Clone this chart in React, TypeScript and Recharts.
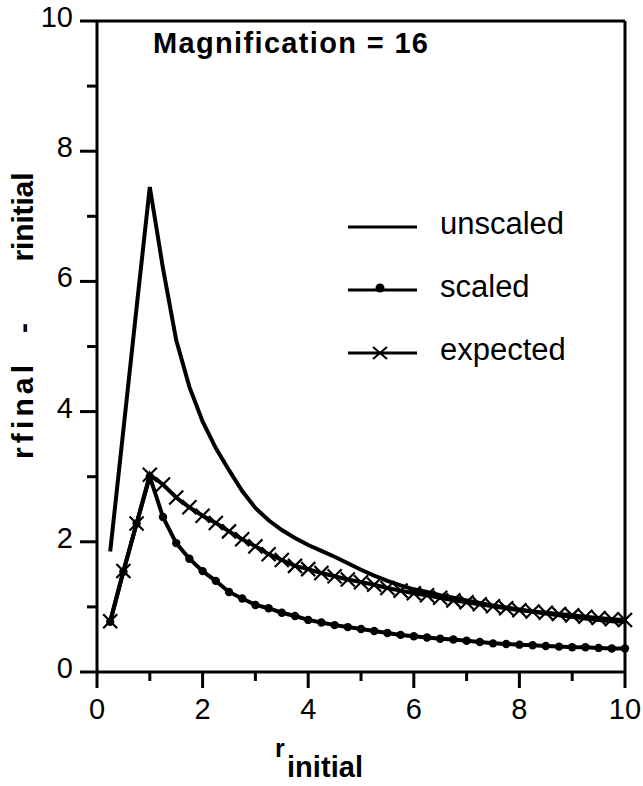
import React from 'react';
import { LineChart, Line, XAxis, YAxis, ReferenceLine, Legend, Customized } from 'recharts';

const rInitial = [0.25, 0.5, 0.75, 1.0, 1.25, 1.5, 1.75, 2.0, 2.25, 2.5, 2.75, 3.0, 3.25, 3.5, 3.75, 4.0, 4.25, 4.5, 4.75, 5.0, 5.25, 5.5, 5.75, 6.0, 6.25, 6.5, 6.75, 7.0, 7.25, 7.5, 7.75, 8.0, 8.25, 8.5, 8.75, 9.0, 9.25, 9.5, 9.75, 10.0];
const unscaled = [1.85, 3.72, 5.6, 7.45, 6.2, 5.1, 4.38, 3.85, 3.44, 3.1, 2.78, 2.52, 2.33, 2.18, 2.06, 1.95, 1.86, 1.77, 1.67, 1.57, 1.48, 1.4, 1.33, 1.27, 1.23, 1.18, 1.14, 1.1, 1.06, 1.02, 0.99, 0.96, 0.93, 0.9, 0.87, 0.85, 0.82, 0.8, 0.78, 0.77];
const scaled = [0.77, 1.54, 2.28, 3.0, 2.38, 1.98, 1.74, 1.55, 1.4, 1.23, 1.13, 1.03, 0.98, 0.91, 0.86, 0.8, 0.76, 0.72, 0.69, 0.66, 0.63, 0.6, 0.57, 0.55, 0.53, 0.51, 0.5, 0.48, 0.46, 0.44, 0.43, 0.42, 0.41, 0.4, 0.39, 0.38, 0.38, 0.37, 0.36, 0.36];
const expected = [0.78, 1.55, 2.28, 3.03, 2.88, 2.68, 2.53, 2.4, 2.29, 2.16, 2.04, 1.93, 1.81, 1.72, 1.63, 1.58, 1.52, 1.47, 1.42, 1.38, 1.34, 1.29, 1.25, 1.21, 1.18, 1.14, 1.1, 1.07, 1.04, 1.01, 0.98, 0.95, 0.93, 0.91, 0.89, 0.87, 0.85, 0.83, 0.81, 0.8];
const xTicks = [0, 1, 2, 3, 4, 5, 6, 7, 8, 9, 10];
const yTicks = [0, 1, 2, 3, 4, 5, 6, 7, 8, 9, 10];
const seriesNames = ['unscaled', 'scaled', 'expected'];
const titleText = 'Magnification = 16';

const data = rInitial.map((x, i) => ({ x, unscaled: unscaled[i], scaled: scaled[i], expected: expected[i] }));

const FONT = '"Liberation Sans", Arial, Helvetica, sans-serif';

const XTick = (props: any) => {
  const { x, y, payload } = props;
  const v = payload.value;
  const major = v % 2 === 0;
  return (
    <g>
      <line x1={x} x2={x} y1={y} y2={y + (major ? 16 : 9)} stroke="#000" strokeWidth={3} />
      {major && (
        <text x={x} y={y + 47} textAnchor="middle" fontSize={29} fontFamily={FONT} fill="#000">
          {v}
        </text>
      )}
    </g>
  );
};

const YTick = (props: any) => {
  const { x, y, payload } = props;
  const v = payload.value;
  const major = v % 2 === 0;
  return (
    <g>
      <line x1={x - (major ? 17 : 10)} x2={x} y1={y} y2={y} stroke="#000" strokeWidth={3} />
      {major && (
        <text x={x - 24} y={y + 6} textAnchor="end" fontSize={29} fontFamily={FONT} fill="#000">
          {v}
        </text>
      )}
    </g>
  );
};

const CrossDot = (props: any) => {
  const { cx, cy, index } = props;
  const s = 7;
  return (
    <path
      key={`xd-${index}`}
      d={`M${cx - s},${cy - s}L${cx + s},${cy + s}M${cx - s},${cy + s}L${cx + s},${cy - s}`}
      stroke="#000"
      strokeWidth={2.2}
      fill="none"
    />
  );
};

const LegendContent = (props: any) => {
  const payload = [...(props.payload || [])].sort(
    (a: any, b: any) => seriesNames.indexOf(a.value) - seriesNames.indexOf(b.value)
  );
  return (
    <svg width={280} height={180} style={{ overflow: 'visible' }}>
      {payload.map((entry: any, i: number) => {
        const ly = 32 + i * 63;
        const key = entry.dataKey;
        return (
          <g key={`leg-${i}`}>
            <line x1={8} x2={77} y1={ly} y2={ly} stroke="#000" strokeWidth={3} />
            {key === 'scaled' && <circle cx={40} cy={ly - 2} r={4.5} fill="#000" />}
            {key === 'expected' && (
              <path d={`M${33},${ly - 6}L${47},${ly + 6}M${33},${ly + 6}L${47},${ly - 6}`} stroke="#000" strokeWidth={2} />
            )}
            <text x={100} y={ly + 7} fontSize={31} fontFamily={FONT} fill="#000">
              {entry.value}
            </text>
          </g>
        );
      })}
    </svg>
  );
};

const Annotations = () => (
  <g fontFamily={FONT} fill="#000">
    <text x={153} y={53} fontSize={29} fontWeight="bold" textLength={275} lengthAdjust="spacing">
      {titleText}
    </text>
    <text x={275} y={757} fontSize={25} fontWeight="bold">r</text>
    <text x={287} y={777} fontSize={29} fontWeight="bold" textLength={76} lengthAdjust="spacing">initial</text>
    <text x={33} y={412} fontSize={30} fontWeight="bold" textAnchor="middle" transform="rotate(-90, 33, 412)" textLength={94} lengthAdjust="spacing">rfinal</text>
    <text x={33} y={328} fontSize={30} fontWeight="bold" textAnchor="middle" transform="rotate(-90, 33, 328)">-</text>
    <text x={33} y={217} fontSize={30} fontWeight="bold" textAnchor="middle" transform="rotate(-90, 33, 217)" textLength={89} lengthAdjust="spacing">rinitial</text>
  </g>
);

export default function App() {
  return (
    <div style={{ position: 'absolute', left: 0, top: 0, width: 643, height: 786, background: '#fff' }}>
      <LineChart width={643} height={786} data={data} margin={{ top: 21, right: 18, bottom: 54, left: 37 }}>
        <XAxis
          dataKey="x"
          type="number"
          domain={[0, 10]}
          ticks={xTicks}
          interval={0}
          height={60}
          tickSize={0}
          tickMargin={0}
          tickLine={false}
          axisLine={{ stroke: '#000', strokeWidth: 3 }}
          tick={<XTick />}
        />
        <YAxis
          type="number"
          domain={[0, 10]}
          ticks={yTicks}
          interval={0}
          width={60}
          tickSize={0}
          tickMargin={0}
          tickLine={false}
          axisLine={{ stroke: '#000', strokeWidth: 3 }}
          tick={<YTick />}
        />
        <ReferenceLine y={10} stroke="#000" strokeWidth={3} ifOverflow="visible" />
        <ReferenceLine x={10} stroke="#000" strokeWidth={3} ifOverflow="visible" />
        <Line
          name={seriesNames[0]}
          dataKey="unscaled"
          type="linear"
          stroke="#000"
          strokeWidth={4}
          dot={false}
          isAnimationActive={false}
        />
        <Line
          name={seriesNames[1]}
          dataKey="scaled"
          type="linear"
          stroke="#000"
          strokeWidth={4}
          dot={{ r: 4.2, fill: '#000', stroke: '#000', strokeWidth: 0 }}
          isAnimationActive={false}
        />
        <Line
          name={seriesNames[2]}
          dataKey="expected"
          type="linear"
          stroke="#000"
          strokeWidth={4}
          dot={(p: any) => <CrossDot {...p} />}
          isAnimationActive={false}
        />
        <Legend
          layout="horizontal"
          verticalAlign="middle"
          align="center"
          content={<LegendContent />}
          wrapperStyle={{ position: 'absolute', left: 340, top: 195, width: 280, height: 180 }}
        />
        <Customized component={Annotations} />
      </LineChart>
    </div>
  );
}
